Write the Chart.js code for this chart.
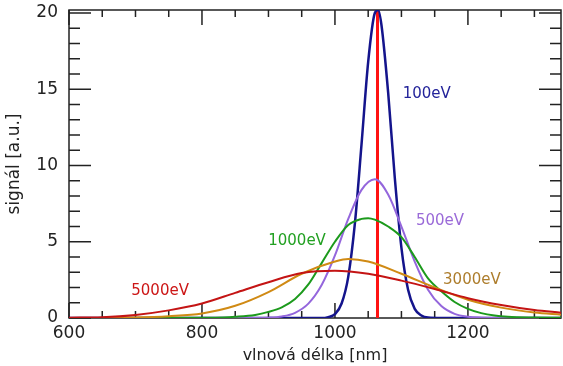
<!DOCTYPE html>
<html>
<head>
<meta charset="utf-8">
<script src="https://cdn.jsdelivr.net/npm/chart.js@4/dist/chart.umd.min.js"></script>
<style>
  html, body { margin: 0; padding: 0; background: #fff; }
  #wrap { width: 563px; height: 366px; }
</style>
</head>
<body>
<div id="wrap"><canvas id="spec"></canvas></div>
<script>
// wavelengths [nm] and signal [a.u.]
const wl100  = [600, 980, 990, 1000, 1010, 1020, 1030, 1040, 1050, 1060, 1065, 1070, 1080, 1090, 1100, 1110, 1120, 1130, 1140, 1160, 1340];
const sig100 = [0, 0, 0.06, 0.25, 0.95, 2.7, 6.2, 11.4, 16.8, 20.0, 20.2, 19.2, 14.8, 9.2, 4.6, 1.85, 0.6, 0.16, 0.03, 0, 0];

const wl500  = [600, 880, 900, 920, 940, 960, 980, 1000, 1020, 1040, 1060, 1080, 1100, 1120, 1140, 1160, 1180, 1200, 1220, 1240, 1340];
const sig500 = [0, 0, 0.02, 0.1, 0.34, 0.94, 2.16, 4.1, 6.5, 8.4, 9.1, 8.1, 6.0, 3.7, 1.86, 0.78, 0.27, 0.08, 0.02, 0, 0];

const wl1000  = [600, 820, 850, 880, 900, 920, 940, 960, 980, 1000, 1020, 1040, 1050, 1060, 1080, 1100, 1120, 1140, 1160, 1180, 1200, 1220, 1240, 1260, 1300, 1340];
const sig1000 = [0, 0.02, 0.08, 0.2, 0.4, 0.7, 1.25, 2.2, 3.6, 5.0, 6.1, 6.5, 6.55, 6.45, 6.0, 5.3, 4.0, 2.6, 1.75, 1.05, 0.6, 0.32, 0.16, 0.08, 0.03, 0.01];

const wl3000  = [600, 650, 700, 750, 800, 850, 900, 950, 1000, 1020, 1050, 1100, 1150, 1200, 1250, 1300, 1340];
const sig3000 = [0, 0, 0.03, 0.12, 0.3, 0.8, 1.7, 2.9, 3.7, 3.87, 3.7, 2.9, 2.0, 1.2, 0.68, 0.36, 0.22];

const wl5000  = [600, 650, 700, 750, 800, 850, 900, 950, 1000, 1050, 1100, 1150, 1200, 1250, 1300, 1340];
const sig5000 = [0.02, 0.05, 0.2, 0.5, 0.95, 1.65, 2.35, 2.95, 3.1, 2.9, 2.45, 1.9, 1.3, 0.85, 0.52, 0.35];

const laserWl = 1064;
const laserSig = [0, 20.2];

const xMajor = [600, 800, 1000, 1200];
const xMinor = [650, 700, 750, 850, 900, 950, 1050, 1100, 1150, 1250, 1300];
const yMajor = [0, 5, 10, 15, 20];

const pts = (xs, ys) => xs.map((x, i) => ({ x: x, y: ys[i] }));

const FONT = '"DejaVu Sans", Verdana, sans-serif';

// curve labels placed in data coordinates
const curveLabels = [
  { text: '100eV',  x: 1138, y: 14.7, color: '#23239a' },
  { text: '500eV',  x: 1158, y: 6.35, color: '#9a6ad8' },
  { text: '1000eV', x: 943,  y: 5.05, color: '#22a022' },
  { text: '3000eV', x: 1206, y: 2.5,  color: '#ad7d2c' },
  { text: '5000eV', x: 737,  y: 1.77, color: '#cc1616' }
];

const frameTicks = {
  id: 'frameTicks',
  beforeDatasetsDraw(chart) {
    const { ctx, chartArea: a, scales: { x, y } } = chart;
    ctx.save();
    ctx.strokeStyle = '#222';
    ctx.lineWidth = 1.5;
    ctx.strokeRect(a.left, a.top, a.right - a.left, a.bottom - a.top);
    ctx.beginPath();
    const xt = (v, len) => {
      const px = x.getPixelForValue(v);
      ctx.moveTo(px, a.bottom); ctx.lineTo(px, a.bottom - len);
      ctx.moveTo(px, a.top); ctx.lineTo(px, a.top + len);
    };
    const yt = (v, len) => {
      const py = y.getPixelForValue(v);
      ctx.moveTo(a.left, py); ctx.lineTo(a.left + len, py);
      ctx.moveTo(a.right, py); ctx.lineTo(a.right - len, py);
    };
    xMajor.forEach(v => xt(v, 15));
    xMinor.forEach(v => xt(v, 7));
    for (let v = 0; v <= 20; v++) yt(v, v % 5 === 0 ? 22 : 11);
    ctx.stroke();
    ctx.restore();
  },
  afterDatasetsDraw(chart) {
    const { ctx, scales: { x, y } } = chart;
    ctx.save();
    ctx.font = '15px ' + FONT;
    ctx.textAlign = 'center';
    ctx.textBaseline = 'middle';
    curveLabels.forEach(l => {
      ctx.fillStyle = l.color;
      ctx.fillText(l.text, x.getPixelForValue(l.x), y.getPixelForValue(l.y));
    });
    ctx.restore();
  }
};

const line = (label, data, color, width) => ({
  label: label, data: data, borderColor: color, borderWidth: width,
  pointRadius: 0, fill: false, cubicInterpolationMode: 'monotone'
});

new Chart(document.getElementById('spec').getContext('2d'), {
  type: 'line',
  data: {
    datasets: [
      line('5000eV', pts(wl5000, sig5000), '#c41414', 2),
      line('3000eV', pts(wl3000, sig3000), '#d08a14', 2),
      line('1000eV', pts(wl1000, sig1000), '#1c9a1c', 2),
      line('500eV', pts(wl500, sig500), '#9466dc', 2),
      line('100eV', pts(wl100, sig100), '#14148c', 2.5),
      line('laser', laserSig.map(v => ({ x: laserWl, y: v })), '#ff1212', 3)
    ]
  },
  plugins: [frameTicks],
  options: {
    responsive: true,
    maintainAspectRatio: false,
    animation: false,
    layout: { padding: { top: 10, right: 2, left: 0, bottom: 0 } },
    plugins: { legend: { display: false }, tooltip: { enabled: false } },
    scales: {
      x: {
        type: 'linear', min: 600, max: 1340,
        afterFit: s => { s.height = 48; },
        afterBuildTicks: s => { s.ticks = xMajor.map(v => ({ value: v })); },
        grid: { display: false, drawTicks: false },
        border: { display: false },
        ticks: { color: '#222', padding: 5, maxRotation: 0, callback: v => String(v),
                 font: { size: 17, family: FONT } },
        title: { display: true, text: 'vlnová délka [nm]', color: '#222', padding: { top: 0, bottom: 1 },
                 font: { size: 16, family: FONT } }
      },
      y: {
        min: 0, max: 20.2,
        afterFit: s => { s.width = 69; s.paddingTop = 0; s.paddingBottom = 0; },
        afterBuildTicks: s => { s.ticks = yMajor.map(v => ({ value: v })); },
        grid: { display: false, drawTicks: false },
        border: { display: false },
        ticks: { color: '#222', padding: 11, font: { size: 17, family: FONT } },
        title: { display: true, text: 'signál [a.u.]', color: '#222', padding: { top: 4, bottom: 0 },
                 font: { size: 17, family: FONT } }
      }
    }
  }
});
</script>
</body>
</html>
